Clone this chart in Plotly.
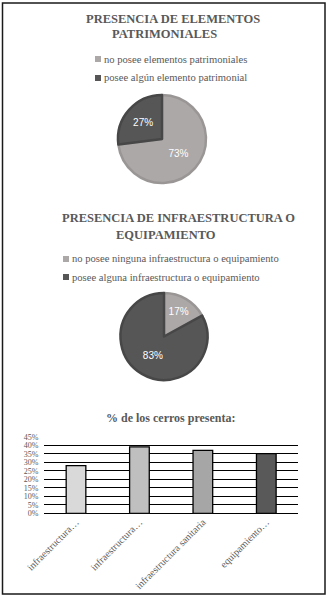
import plotly.graph_objects as go

W, H = 330, 603

# ---- data ----
pie1_title = ["PRESENCIA DE ELEMENTOS", "PATRIMONIALES"]
pie1_labels = ["no posee elementos patrimoniales", "posee algún elemento patrimonial"]
pie1_values = [73, 27]

pie2_title = ["PRESENCIA DE INFRAESTRUCTURA O", "EQUIPAMIENTO"]
pie2_labels = ["no posee ninguna infraestructura o equipamiento", "posee alguna infraestructura o equipamiento"]
pie2_values = [17, 83]

bar_title = "% de los cerros presenta:"
bar_labels = ["infraestructura…", "infraestructura…", "infraestructura sanitaria", "equipamiento…"]
bar_values = [0.28, 0.39, 0.37, 0.35]
y_ticks = [0, 0.05, 0.10, 0.15, 0.20, 0.25, 0.30, 0.35, 0.40, 0.45]

# ---- styles ----
pie_fill = ["#ACA8A8", "#565656"]
pie_edge = ["#9A9696", "#474747"]
bar_colors = ["#D9D9D9", "#BFBFBF", "#A6A6A6", "#595959"]
txt_gray = "#595959"
SERIF = "Liberation Serif"


def px(x):
    return x / W


def py(y):
    return 1 - y / H


fig = go.Figure()

pie_common = dict(
    sort=False, direction="clockwise", rotation=0,
    textinfo="percent", textposition="inside",
    insidetextorientation="horizontal",
    textfont=dict(family="Liberation Sans", size=10, color="white"),
    marker=dict(colors=pie_fill, line=dict(color=pie_edge, width=2.5)),
    showlegend=False, hoverinfo="label+percent",
)

fig.add_trace(go.Pie(labels=pie1_labels, values=pie1_values,
                     domain=dict(x=[px(118), px(206)], y=[py(183), py(95)]),
                     **pie_common))
fig.add_trace(go.Pie(labels=pie2_labels, values=pie2_values,
                     domain=dict(x=[px(120.5), px(207.5)], y=[py(380), py(293)]),
                     **pie_common))

fig.add_trace(go.Bar(x=list(range(len(bar_values))), y=bar_values,
                     marker=dict(color=bar_colors, line=dict(color="black", width=1.3)),
                     width=0.31, showlegend=False, xaxis="x", yaxis="y"))

annotations = []
# titles
for lines, ys, xs in [(pie1_title, [19, 34], [173, 164]),
                      (pie2_title, [218, 235], [178, 166])]:
    for t, yy, xx in zip(lines, ys, xs):
        annotations.append(dict(text="<b>" + t + "</b>", x=px(xx), y=py(yy), xref="paper", yref="paper",
                                xanchor="center", yanchor="middle", showarrow=False,
                                font=dict(family=SERIF, size=12.5, color=txt_gray)))
annotations.append(dict(text="<b>" + bar_title + "</b>", x=px(171), y=py(418), xref="paper", yref="paper",
                        xanchor="center", yanchor="middle", showarrow=False,
                        font=dict(family=SERIF, size=12, color=txt_gray)))

shapes = []
# manual legends
for labels, x0, ys in [(pie1_labels, 95, [59, 78]), (pie2_labels, 63, [259, 277])]:
    for i, (lab, yy) in enumerate(zip(labels, ys)):
        shapes.append(dict(type="rect", xref="paper", yref="paper",
                           x0=px(x0), x1=px(x0 + 6), y0=py(yy + 3), y1=py(yy - 3),
                           fillcolor=pie_fill[i], line=dict(width=0)))
        annotations.append(dict(text=lab, x=px(x0 + 6.5), y=py(yy), xref="paper", yref="paper",
                                xanchor="left", yanchor="middle", showarrow=False,
                                font=dict(family=SERIF, size=10.6, color=txt_gray)))

# frame
shapes.append(dict(type="rect", xref="paper", yref="paper",
                   x0=px(2.5), x1=px(325), y0=py(594), y1=py(3),
                   line=dict(color="#1a1a1a", width=1.5), fillcolor="rgba(0,0,0,0)"))

fig.update_layout(
    width=W, height=H, margin=dict(l=0, r=0, t=0, b=0, pad=0, autoexpand=False),
    paper_bgcolor="white", plot_bgcolor="white",
    annotations=annotations, shapes=shapes,
    xaxis=dict(domain=[px(44.3), px(298)], range=[-0.5, 3.5], automargin=False,
               tickvals=list(range(len(bar_labels))), ticktext=bar_labels,
               tickangle=-45, showgrid=False, zeroline=False,
               showline=False, ticks="",
               tickfont=dict(family=SERIF, size=10, color=txt_gray)),
    yaxis=dict(domain=[py(513.3), py(436.7)], range=[0, 0.45], automargin=False,
               tickvals=y_ticks, tickformat=".0%",
               showgrid=True, gridcolor="black", gridwidth=1.3,
               zeroline=True, zerolinecolor="black", zerolinewidth=1.3,
               showline=False, ticks="", ticklabelstandoff=5,
               tickfont=dict(family=SERIF, size=8, color=txt_gray)),
    bargap=0.69,
)

fig.write_html("out.html", config={"displayModeBar": False},
               post_script="document.body.style.margin='0';document.body.style.overflow='hidden';")
